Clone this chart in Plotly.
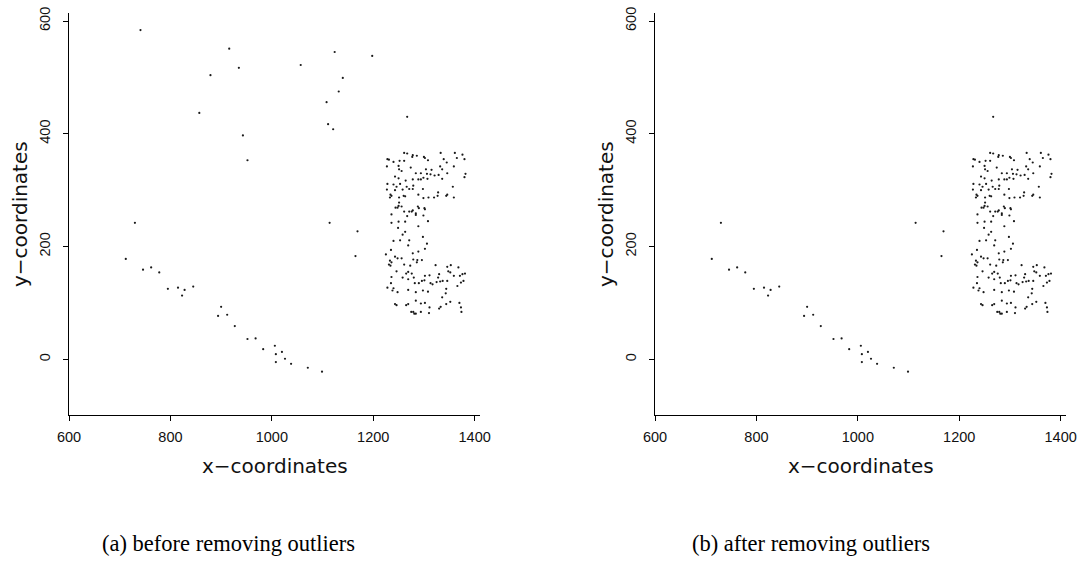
import plotly.graph_objects as go

# Points kept after cleaning: the sparse trail plus the dense block on the right
inlier_x = [
    730, 712, 746, 762, 778, 795, 815, 828, 823, 845, 900, 894, 912, 927, 952, 968,
    983, 1006, 1020, 1008, 1026, 1008, 1038, 1071, 1099, 1114, 1169, 1165, 1267,
    1261, 1267, 1278, 1277, 1286, 1333, 1361, 1376, 1228, 1231, 1240, 1252, 1261,
    1302, 1300, 1308, 1339, 1345, 1365, 1380, 1227, 1250, 1251, 1256, 1274, 1315,
    1304, 1332, 1336, 1359, 1284, 1294, 1306, 1313, 1299, 1321, 1329, 1346, 1382,
    1380, 1243, 1250, 1264, 1278, 1289, 1294, 1307, 1336, 1228, 1240, 1253, 1246,
    1266, 1279, 1278, 1243, 1227, 1258, 1271, 1298, 1357, 1234, 1236, 1233, 1260,
    1263, 1251, 1289, 1328, 1327, 1299, 1309, 1320, 1344, 1346, 1359, 1251, 1250,
    1244, 1248, 1256, 1288, 1290, 1301, 1302, 1261, 1276, 1271, 1278, 1284, 1284,
    1267, 1299, 1236, 1236, 1250, 1263, 1308, 1289, 1249,
    1263, 1258, 1298, 1253, 1240, 1271, 1306, 1269, 1302, 1235, 1289, 1278, 1225,
    1243, 1248, 1256, 1233, 1236, 1279, 1287, 1296, 1286, 1231, 1234, 1261, 1273,
    1323, 1353, 1346, 1368, 1246, 1269, 1265, 1276, 1348, 1352, 1330, 1381, 1376,
    1371, 1359, 1236, 1258, 1269, 1280, 1311, 1302, 1301, 1328, 1332, 1337, 1346,
    1325, 1378, 1373, 1235, 1282, 1290, 1296, 1313, 1317, 1228, 1240, 1238, 1248,
    1269, 1284, 1298, 1308, 1344, 1366, 1343, 1336, 1243, 1246, 1265, 1269, 1284,
    1294, 1302, 1311, 1333, 1330, 1344, 1352, 1370, 1275, 1279, 1281, 1284, 1294,
    1310, 1373, 1374,
]
inlier_y = [
    242, 178, 159, 163, 154, 125, 127, 123, 113, 129, 93, 77, 79, 59, 36, 37,
    18, 24, 13, 9, 1, -5, -8, -15, -22, 242, 227, 183, 430,
    366, 365, 362, 359, 361, 366, 366, 363, 355, 354, 350, 352, 352,
    357, 359, 353, 355, 349, 357, 355, 342, 343, 337, 334, 340, 336,
    337, 342, 337, 342, 330, 330, 329, 328, 322, 326, 327, 330, 329,
    323, 324, 321, 317, 319, 319, 319, 320, 320, 311, 310, 311, 306,
    306, 308, 302, 300, 301, 301, 302, 302, 306, 292, 290, 287, 290,
    289, 287, 292, 296, 290, 286, 287, 287, 290, 292, 287, 278, 272,
    269, 269, 271, 271, 268, 268, 266, 262, 262, 262, 264, 259, 256,
    254, 255, 257, 242, 244, 244, 245, 236, 233,
    226, 221, 217, 211, 210, 211, 205, 202, 196, 194, 191, 188, 186,
    182, 179, 179, 175, 172, 177, 176, 176, 172, 168, 166, 168, 166,
    167, 167, 164, 163, 156, 155, 152, 152, 156, 154, 151, 152, 151,
    148, 148, 146, 145, 142, 145, 149, 148, 140, 145, 138, 139, 139,
    137, 139, 136, 135, 135, 135, 139, 135, 133, 127, 126, 122, 119,
    123, 119, 122, 120, 125, 130, 117, 110, 98, 96, 96, 98, 104,
    99, 100, 92, 93, 90, 98, 102, 100, 84, 84, 81, 81, 84,
    82, 92, 84,
]

# Points dropped as outliers
outlier_x = [741, 916, 935, 879, 857, 943, 952, 1057, 1124, 1198, 1140, 1132, 1108, 1111, 1121]
outlier_y = [584, 551, 517, 504, 437, 397, 353, 522, 545, 538, 499, 475, 456, 417, 408]

x_ticks = [600, 800, 1000, 1200, 1400]
y_ticks = [0, 200, 400, 600]
x_title = "x\u2212coordinates"
y_title = "y\u2212coordinates"
captions = ["(a) before removing outliers", "(b) after removing outliers"]

W, H = 1079, 571
TICK_FONT = dict(family="Liberation Sans, Arial, sans-serif", size=14.5, color="#111")
TITLE_FONT = dict(family="DejaVu Sans, sans-serif", size=20, color="#111")
CAP_FONT = dict(family="Liberation Serif, Times New Roman, serif", size=22.5, color="#000")

# pixel geometry of the two panels
PANELS = [(69, 480), (655, 1066)]
TOP, BOTTOM = 13, 415
X_RANGE = [600, 1410.6]
Y_RANGE = [-98.8, 614.2]

marker = dict(size=2.2, color="#1a1a1a", line=dict(width=0))

fig = go.Figure()
fig.add_trace(go.Scatter(x=inlier_x + outlier_x, y=inlier_y + outlier_y, mode="markers",
                         marker=marker, xaxis="x", yaxis="y", showlegend=False))
fig.add_trace(go.Scatter(x=inlier_x, y=inlier_y, mode="markers",
                         marker=marker, xaxis="x2", yaxis="y2", showlegend=False))

ydom = [1 - BOTTOM / H, 1 - TOP / H]
axis_common = dict(showline=True, linecolor="black", linewidth=1, ticks="outside",
                   ticklen=5, tickcolor="black", tickwidth=1, showgrid=False,
                   zeroline=False, tickfont=TICK_FONT, automargin=False)

layout = dict(width=W, height=H, margin=dict(l=0, r=0, t=0, b=0, autoexpand=False),
              paper_bgcolor="white", plot_bgcolor="white", showlegend=False)

annotations = []
for i, (x0, x1) in enumerate(PANELS):
    sfx = "" if i == 0 else str(i + 1)
    layout["xaxis" + sfx] = dict(axis_common, domain=[x0 / W, x1 / W], range=X_RANGE,
                                 tickvals=x_ticks, anchor="y" + sfx, ticklabelstandoff=4)
    layout["yaxis" + sfx] = dict(axis_common, domain=ydom, range=Y_RANGE,
                                 tickvals=y_ticks, anchor="x" + sfx, tickangle=-90,
                                 ticklabelstandoff=7)
    cx = (x0 + x1) / 2
    annotations.append(dict(text=x_title, x=cx / W, y=1 - 466 / H, xref="paper", yref="paper",
                            xanchor="center", yanchor="middle", showarrow=False, font=TITLE_FONT))
    annotations.append(dict(text=y_title, x=(x0 - 49) / W, y=1 - 214 / H, xref="paper",
                            yref="paper", xanchor="center", yanchor="middle", textangle=-90,
                            showarrow=False, font=TITLE_FONT))
    annotations.append(dict(text=captions[i], x=[228, 811][i] / W, y=1 - 543 / H,
                            xref="paper", yref="paper", xanchor="center", yanchor="middle",
                            showarrow=False, font=CAP_FONT))

layout["annotations"] = annotations
fig.update_layout(**layout)
fig.write_html("out.html")
